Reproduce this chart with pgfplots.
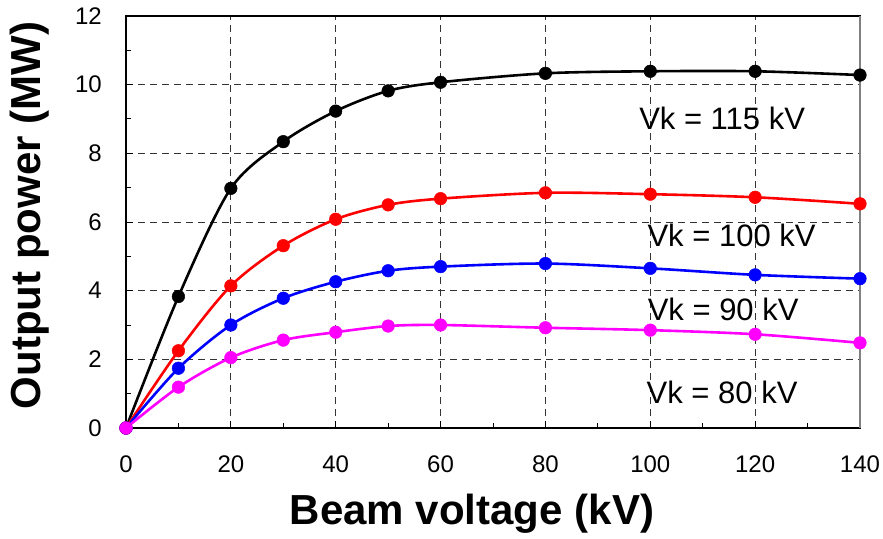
\documentclass[border=0pt]{standalone}
\usepackage{pgfplots}
\pgfplotsset{compat=1.18}
\usepackage{fontspec}
\setmainfont{Liberation Sans}
\definecolor{cred}{RGB}{255,0,0}
\definecolor{cblue}{RGB}{0,0,255}
\definecolor{cmag}{RGB}{255,0,255}
\begin{document}
\begin{tikzpicture}
\begin{axis}[
 scale only axis, width=734pt, height=412pt,
 xmin=0,xmax=140,ymin=0,ymax=12,
 xtick={0,20,...,140}, ytick={0,2,...,12},
 minor x tick num=1, minor y tick num=1,
 tick pos=left, tick align=inside,
 major tick length=7pt, minor tick length=5pt,
 tick style={black, line width=1pt},
 grid=major, grid style={black!80, line width=0.8pt, dash pattern=on 7pt off 5pt},
 axis line style={line width=1.2pt},
 /pgf/number format/assume math mode=true,
 ticklabel style={font=\fontsize{24}{28}\selectfont, inner sep=0pt},
 xticklabel style={anchor=base, yshift=-44pt},
 yticklabel style={anchor=east, xshift=-24pt},
 xlabel={\textbf{Beam voltage (kV)}},
 ylabel={\textbf{Output power (MW)}},
 label style={font=\fontsize{42}{48}\selectfont},
 xlabel style={at={(rel axis cs:0.4714,-0.2354)}, anchor=base},
 ylabel style={at={(rel axis cs:-0.1308,0.516)}, anchor=center},
 clip=false,
 every axis plot/.append style={line width=2.6pt, smooth, tension=0.5, mark=*, mark size=6.3pt, mark options={solid, line width=0.5pt}},
]
\coordinate (bl) at (rel axis cs:0,0);
\coordinate (tr) at (rel axis cs:1,1);
\draw[gray, line width=1.2pt] (rel axis cs:1,0) -- (rel axis cs:1,1);
\addplot[black] coordinates {(0,0) (10,3.83) (20,6.98) (30,8.34) (40,9.23) (50,9.82) (60,10.07) (80,10.33) (100,10.39) (120,10.39) (140,10.28)};
\addplot[cred] coordinates {(0,0) (10,2.25) (20,4.14) (30,5.31) (40,6.08) (50,6.5) (60,6.68) (80,6.85) (100,6.81) (120,6.72) (140,6.53)};
\addplot[cblue] coordinates {(0,0) (10,1.74) (20,3.0) (30,3.78) (40,4.26) (50,4.58) (60,4.70) (80,4.79) (100,4.65) (120,4.46) (140,4.35)};
\addplot[cmag] coordinates {(0,0) (10,1.19) (20,2.05) (30,2.56) (40,2.79) (50,2.97) (60,3.0) (80,2.92) (100,2.85) (120,2.73) (140,2.48)};
\node[font=\fontsize{31}{36}\selectfont] at (axis cs:113.7,9.03) {Vk = 115 kV};
\node[font=\fontsize{31}{36}\selectfont] at (axis cs:115.5,5.6) {Vk = 100 kV};
\node[font=\fontsize{31}{36}\selectfont] at (axis cs:113.9,3.44) {Vk = 90 kV};
\node[font=\fontsize{31}{36}\selectfont] at (axis cs:113.7,1.03) {Vk = 80 kV};
\end{axis}
\pgfresetboundingbox
\path ([xshift=-126pt,yshift=-110pt]bl) rectangle ([xshift=23pt,yshift=16pt]tr);
\end{tikzpicture}
\end{document}
